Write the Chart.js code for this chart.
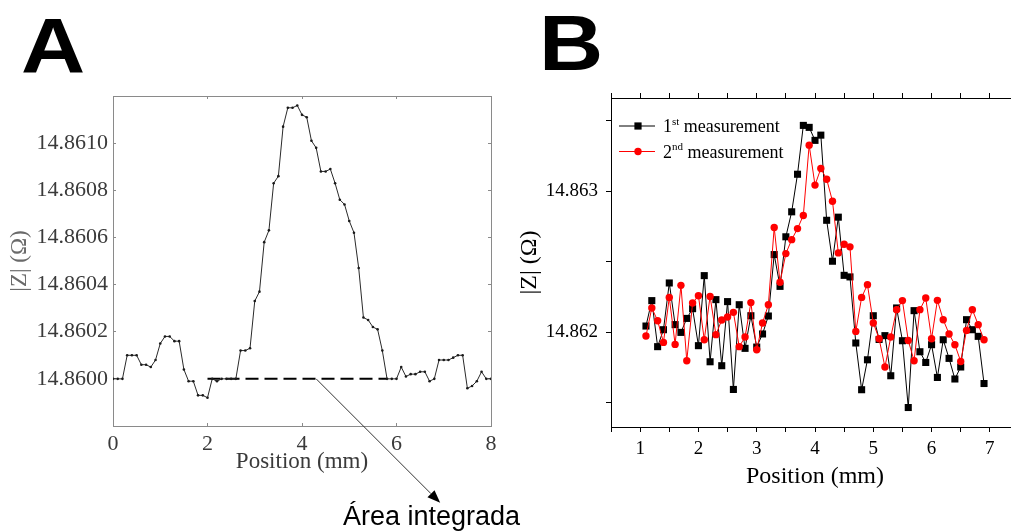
<!DOCTYPE html>
<html>
<head>
<meta charset="utf-8">
<script src="https://cdn.jsdelivr.net/npm/chart.js@4/dist/chart.umd.min.js"></script>
<style>
  html, body { margin:0; padding:0; background:#fff; width:1011px; height:531px; overflow:hidden; position:relative; }
  #cA { position:absolute; left:0; top:0; }
  #cB { position:absolute; left:505px; top:0; }
  .big { position:absolute; font-family:"Liberation Sans", Arial, sans-serif; font-weight:bold; font-size:78px; line-height:78px; color:#000; transform:scaleX(1.14); transform-origin:left top; }
  #note { position:absolute; left:343px; top:503px; font-family:"Liberation Sans", Arial, sans-serif; font-size:27px; line-height:27px; color:#000; white-space:nowrap; }
</style>
</head>
<body>
<canvas id="cA" width="505" height="531"></canvas>
<canvas id="cB" width="540" height="531"></canvas>
<div class="big" id="labA" style="left:21px; top:7px;">A</div>
<div class="big" id="labB" style="left:539px; top:4px;">B</div>
<div id="note">Área integrada</div>
<script>
// ---------- Panel A data ----------
const positionsA = [0.0,0.1,0.2,0.3,0.4,0.5,0.6,0.7,0.8,0.9,1.0,1.1,1.2,1.3,1.4,1.5,1.6,1.7,1.8,1.9,
  2.0,2.1,2.2,2.3,2.4,2.5,2.6,2.7,2.8,2.9,3.0,3.1,3.2,3.3,3.4,3.5,3.6,3.7,3.8,3.9,
  4.0,4.1,4.2,4.3,4.4,4.5,4.6,4.7,4.8,4.9,5.0,5.1,5.2,5.3,5.4,5.5,5.6,5.7,5.8,5.9,
  6.0,6.1,6.2,6.3,6.4,6.5,6.6,6.7,6.8,6.9,7.0,7.1,7.2,7.3,7.4,7.5,7.6,7.7,7.8,7.9,8.0];
const impedanceA = [14.86000,14.86000,14.86000,14.86010,14.86010,14.86010,14.86006,14.86006,14.86005,14.86008,
  14.86015,14.86018,14.86018,14.86016,14.86016,14.86004,14.85999,14.85999,14.85993,14.85993,
  14.85992,14.86000,14.85999,14.86000,14.86000,14.86000,14.86000,14.86012,14.86012,14.86013,
  14.86033,14.86037,14.86058,14.86063,14.86083,14.86086,14.86107,14.86115,14.86115,14.86116,
  14.86112,14.86111,14.86101,14.86098,14.86088,14.86088,14.86089,14.86083,14.86076,14.86074,
  14.86067,14.86062,14.86047,14.86026,14.86025,14.86022,14.86021,14.86012,14.86000,14.86000,
  14.86000,14.86005,14.86001,14.86002,14.86002,14.86003,14.86003,14.85999,14.86000,14.86008,
  14.86008,14.86008,14.86009,14.86010,14.86010,14.85996,14.85997,14.85999,14.86003,14.86000,14.86000];
const baselineX = [2.0, 5.8];
const baselineY = [14.8600, 14.8600];
const arrowStartA = {x: 4.3, y: 14.8600};
const xTicksA = [0, 2, 4, 6, 8];
const yTicksA = [14.8600, 14.8602, 14.8604, 14.8606, 14.8608, 14.8610];
const noteText = 'Área integrada';

// ---------- Panel B data ----------
const positionsB = [1.1,1.2,1.3,1.4,1.5,1.6,1.7,1.8,1.9,2.0,2.1,2.2,2.3,2.4,2.5,2.6,2.7,2.8,2.9,3.0,
  3.1,3.2,3.3,3.4,3.5,3.6,3.7,3.8,3.9,4.0,4.1,4.2,4.3,4.4,4.5,4.6,4.7,4.8,4.9,5.0,
  5.1,5.2,5.3,5.4,5.5,5.6,5.7,5.8,5.9,6.0,6.1,6.2,6.3,6.4,6.5,6.6,6.7,6.8,6.9];
const measurement1 = [14.862045,14.862225,14.861899,14.862019,14.862350,14.862055,14.862000,14.862099,14.862168,14.861906,
  14.862402,14.861792,14.862232,14.861764,14.862218,14.861596,14.862196,14.861887,14.862118,14.861896,
  14.861989,14.862116,14.862551,14.862326,14.862677,14.862854,14.863120,14.863466,14.863452,14.863360,
  14.863397,14.862794,14.862504,14.862816,14.862404,14.862393,14.861925,14.861594,14.861806,14.862118,
  14.861950,14.861977,14.861693,14.862173,14.861941,14.861468,14.862154,14.861863,14.861787,14.861913,
  14.861681,14.861948,14.861816,14.861670,14.861755,14.862090,14.862019,14.861972,14.861638];
const measurement2 = [14.861974,14.862173,14.862083,14.861929,14.862248,14.861915,14.862333,14.861799,14.862208,14.862260,
  14.861948,14.862255,14.861984,14.862088,14.862109,14.862142,14.861899,14.861967,14.862211,14.861877,
  14.862067,14.862196,14.862743,14.862355,14.862558,14.862657,14.862735,14.862828,14.863326,14.863043,
  14.863161,14.863085,14.862929,14.862563,14.862624,14.862606,14.862007,14.862248,14.862338,14.862067,
  14.861955,14.861755,14.861967,14.862161,14.862225,14.861943,14.861799,14.862161,14.862244,14.861955,
  14.862227,14.862090,14.861989,14.861913,14.861794,14.862014,14.862161,14.862055,14.861948];
const seriesNamesB = [['1','st',' measurement'], ['2','nd',' measurement']];
const xTicksB = [0.5,1,1.5,2,2.5,3,3.5,4,4.5,5,5.5,6,6.5,7,7.5];
const xLabelsB = [1,2,3,4,5,6,7];
const yTicksB = [14.8615,14.8620,14.8625,14.8630,14.8635];
const yLabelsB = [14.862, 14.863];

// ---------- helpers ----------
const serif = '"Liberation Serif", "Times New Roman", serif';
const setTicks = arr => (s => { s.ticks = arr.map(v => ({value: v})); });
const pts = (xs, ys) => xs.map((x, i) => ({x: x, y: ys[i]}));

// ---------- Panel A ----------
const grayA = '#8a8a8a';
const textA = '#3a3a3a';
const arrowPlugin = {
  id: 'arrowA',
  afterDatasetsDraw(chart) {
    const {ctx, scales} = chart;
    const sx = scales.x.getPixelForValue(arrowStartA.x);
    const sy = scales.y.getPixelForValue(arrowStartA.y);
    const ex = sx + 124, ey = sy + 124;
    const ang = Math.atan2(ey - sy, ex - sx);
    const L = 13, W = 5;
    ctx.save();
    ctx.strokeStyle = '#333'; ctx.fillStyle = '#000'; ctx.lineWidth = 1;
    ctx.beginPath(); ctx.moveTo(sx, sy);
    ctx.lineTo(ex - L * Math.cos(ang), ey - L * Math.sin(ang)); ctx.stroke();
    ctx.beginPath();
    ctx.moveTo(ex, ey);
    ctx.lineTo(ex - L * Math.cos(ang) + W * Math.sin(ang), ey - L * Math.sin(ang) - W * Math.cos(ang));
    ctx.lineTo(ex - L * Math.cos(ang) - W * Math.sin(ang), ey - L * Math.sin(ang) + W * Math.cos(ang));
    ctx.closePath(); ctx.fill();
    ctx.restore();
  }
};

const axisA = (pos, ticksArr, size, showLabels, extra) => Object.assign({
  type: 'linear', position: pos,
  afterBuildTicks: setTicks(ticksArr),
  afterFit: s => { if (pos === 'left' || pos === 'right') s.width = size; else s.height = size; },
  grid: { drawOnChartArea: false, drawTicks: true, tickLength: -3, tickColor: grayA, tickWidth: 1 },
  border: { display: true, color: grayA, width: 1 },
  ticks: { display: showLabels, color: textA, font: { family: serif, size: 22 }, padding: 9 }
}, extra);

new Chart(document.getElementById('cA'), {
  type: 'line',
  data: {
    datasets: [
      { data: pts(positionsA, impedanceA), borderColor: '#2a2a2a', borderWidth: 1, pointRadius: 1.3,
        pointBackgroundColor: '#1a1a1a', pointBorderWidth: 0, tension: 0, xAxisID: 'x', yAxisID: 'y' },
      { data: pts(baselineX, baselineY), borderColor: '#000', borderWidth: 2, borderDash: [13, 6],
        pointRadius: 0, tension: 0, xAxisID: 'x', yAxisID: 'y' }
    ]
  },
  options: {
    responsive: false, animation: false, maintainAspectRatio: false,
    layout: { padding: 0 },
    plugins: { legend: { display: false }, tooltip: { enabled: false } },
    scales: {
      x: axisA('bottom', xTicksA, 105, true, { min: 0, max: 8,
        title: { display: true, text: 'Position (mm)', color: textA, font: { family: serif, size: 23 }, padding: { top: 0, bottom: 55 } },
        ticks: { display: true, color: textA, font: { family: serif, size: 22 }, padding: 8.5 } }),
      x2: axisA('top', xTicksA, 96, false, { min: 0, max: 8 }),
      y: axisA('left', yTicksA, 113, true, { min: 14.8598, max: 14.8612,
        title: { display: true, text: '|Z| (Ω)', color: '#6a6a6a', font: { family: serif, size: 23 }, padding: { top: 6, bottom: 0 } },
        ticks: { display: true, color: textA, font: { family: serif, size: 22 }, padding: 8, callback: v => v.toFixed(4) } }),
      y2: axisA('right', yTicksA, 14, false, { min: 14.8598, max: 14.8612 })
    }
  },
  plugins: [arrowPlugin]
});
document.getElementById('note').textContent = noteText;

// ---------- Panel B ----------
const legendPlugin = {
  id: 'legendB',
  afterDraw(chart) {
    const {ctx, chartArea} = chart;
    const rows = [
      { color: '#000', line: '#000', shape: 'rect', y: chartArea.top + 28 },
      { color: '#ff0000', line: '#ff0000', shape: 'circle', y: chartArea.top + 53.5 }
    ];
    ctx.save();
    rows.forEach((r, i) => {
      const x0 = chartArea.left + 8, x1 = chartArea.left + 44, xm = chartArea.left + 27;
      ctx.strokeStyle = r.line; ctx.lineWidth = 1;
      ctx.beginPath(); ctx.moveTo(x0, r.y); ctx.lineTo(x1, r.y); ctx.stroke();
      ctx.fillStyle = r.color;
      if (r.shape === 'rect') ctx.fillRect(xm - 3.6, r.y - 3.6, 7.2, 7.2);
      else { ctx.beginPath(); ctx.arc(xm, r.y, 3.7, 0, Math.PI * 2); ctx.fill(); }
      const parts = seriesNamesB[i];
      let tx = chartArea.left + 52;
      ctx.fillStyle = '#000'; ctx.textBaseline = 'alphabetic'; ctx.textAlign = 'left';
      ctx.font = '18px ' + serif;
      ctx.fillText(parts[0], tx, r.y + 6); tx += ctx.measureText(parts[0]).width;
      ctx.font = '11px ' + serif;
      ctx.fillText(parts[1], tx, r.y - 1.5); tx += ctx.measureText(parts[1]).width;
      ctx.font = '18px ' + serif;
      ctx.fillText(parts[2], tx, r.y + 6);
    });
    ctx.restore();
  }
};

const axisB = (pos, ticksArr, size, showLabels, extra) => Object.assign({
  type: 'linear', position: pos,
  afterBuildTicks: setTicks(ticksArr),
  afterFit: s => { if (pos === 'left' || pos === 'right') s.width = size; else s.height = size; },
  grid: { drawOnChartArea: false, drawTicks: true, tickLength: 5, tickColor: '#000', tickWidth: 1 },
  border: { display: true, color: '#000', width: 1 },
  ticks: { display: showLabels, color: '#000', font: { family: serif, size: 19 }, padding: 4 }
}, extra);

new Chart(document.getElementById('cB'), {
  type: 'line',
  data: {
    datasets: [
      { label: '1st measurement', data: pts(positionsB, measurement1), borderColor: '#000', borderWidth: 1,
        pointStyle: 'rect', pointRadius: 5, pointBackgroundColor: '#000', pointBorderWidth: 0, tension: 0, order: 2 },
      { label: '2nd measurement', data: pts(positionsB, measurement2), borderColor: '#ff0000', borderWidth: 1,
        pointStyle: 'circle', pointRadius: 3.7, pointBackgroundColor: '#ff0000', pointBorderWidth: 0, tension: 0, order: 1 }
    ]
  },
  options: {
    responsive: false, animation: false, maintainAspectRatio: false,
    layout: { padding: { left: 0, top: 0, bottom: 0, right: 26 } },
    plugins: { legend: { display: false }, tooltip: { enabled: false } },
    scales: {
      x: axisB('bottom', xTicksB, 104, true, { min: 0.5, max: 7.5,
        title: { display: true, text: 'Position (mm)', color: '#000', font: { family: serif, size: 24 }, padding: { top: 0, bottom: 40 } },
        ticks: { display: true, color: '#000', font: { family: serif, size: 19 }, padding: 6,
          callback: v => xLabelsB.includes(v) ? String(v) : '' } }),
      x2: axisB('top', xTicksB, 98, false, { min: 0.5, max: 7.5 }),
      y: axisB('left', yTicksB, 106, true, { min: 14.86133, max: 14.86366,
        title: { display: true, text: '|Z| (Ω)', color: '#000', font: { family: serif, size: 24 }, padding: { top: 10, bottom: 0 } },
        ticks: { display: true, color: '#000', font: { family: serif, size: 19 }, padding: 8,
          callback: v => yLabelsB.some(l => Math.abs(l - v) < 1e-7) ? v.toFixed(3) : '' } })
    }
  },
  plugins: [legendPlugin]
});
</script>
</body>
</html>
